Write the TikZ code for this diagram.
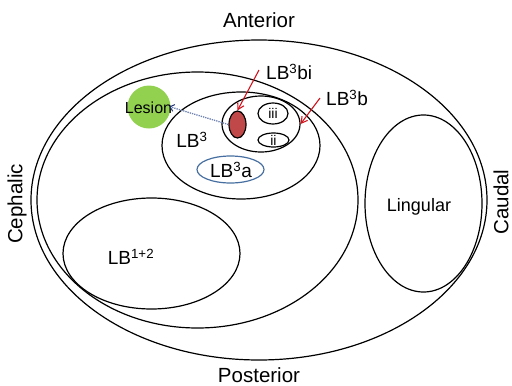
\documentclass[tikz,border=0pt]{standalone}
\usepackage{fontspec}
\setmainfont{Liberation Sans}
\usetikzlibrary{shapes.geometric,arrows.meta}
\definecolor{lesiongreen}{RGB}{146,208,80}
\definecolor{bired}{RGB}{192,72,72}
\definecolor{arrred}{RGB}{210,20,30}
\definecolor{lbablue}{RGB}{70,110,160}
\definecolor{dotblue}{RGB}{110,130,175}
\definecolor{tipblue}{RGB}{30,50,120}
\begin{document}
\begin{tikzpicture}[x=1pt,y=-1pt,
  region/.style={draw=black, line width=1.2pt, ellipse, inner sep=0pt},
  lbl/.style={font=\fontsize{19}{21}\selectfont, inner sep=0pt},
  biglbl/.style={font=\fontsize{20.5}{23}\selectfont, inner sep=0pt},
  small/.style={font=\fontsize{14}{16}\selectfont, inner sep=0pt},
  redarrow/.style={draw=arrred, line width=1.1pt, -{Straight Barb[length=6pt,width=7pt]}}]
\useasboundingbox (0,0) rectangle (512,386);
% regions
\node[region, minimum width=456pt, minimum height=320pt] (outer) at (259,200) {};
\node[region, minimum width=321pt, minimum height=256pt] (upper) at (197.5,200) {};
\node[region, minimum width=117pt, minimum height=177pt] (ling) at (423.5,203.5) {};
\node[region, minimum width=177pt, minimum height=111pt] (lb12) at (151.5,253.5) {};
\node[region, minimum width=158pt, minimum height=107pt] (lb3) at (241,145.5) {};
\node[region, minimum width=78pt, minimum height=56pt] (lb3b) at (261,124) {};
\node[region, minimum width=30pt, minimum height=21pt] (iii) at (273,113.5) {};
\node[region, minimum width=31pt, minimum height=14pt] (ii) at (273.5,140) {};
\node[region, fill=bired, minimum width=17pt, minimum height=27pt] (bi) at (237.5,124.5) {};
\node[region, draw=lbablue, minimum width=67pt, minimum height=27pt] (lb3a) at (230.5,169.5) {};
\node[circle, fill=lesiongreen, minimum size=43pt, inner sep=0pt] (lesion) at (149,107) {};
% texts
\node[font=\fontsize{16}{18}\selectfont, inner sep=0pt] (lesiont) at (148.5,107.5) {Lesion};
\node[small] (iiit) at (273,113.5) {iii};
\node[small] (iit) at (273.5,140) {ii};
\node[lbl] (lb3t) at (192,140) {LB\textsuperscript{3}};
\node[lbl] (lb3at) at (231,170) {LB\textsuperscript{3}a};
\node[lbl] (lb12t) at (131,257) {LB\textsuperscript{1+2}};
\node[font=\fontsize{18}{20}\selectfont, inner sep=0pt] (lingt) at (419,207) {Lingular};
\node[lbl, anchor=west] (bit) at (266,72) {LB\textsuperscript{3}bi};
\node[lbl, anchor=west] (lb3bt) at (326,98) {LB\textsuperscript{3}b};
\node[biglbl] (ant) at (259,20) {Anterior};
\node[biglbl] (post) at (259,375) {Posterior};
\node[biglbl, rotate=90] (ceph) at (17,204) {Cephalic};
\node[biglbl, rotate=90] (caud) at (501,202) {Caudal};
% connectors
\coordinate (bistart) at (259,70);
\coordinate (bstart) at (320,98);
\draw[redarrow] (bistart) -- (bi.north);
\draw[redarrow] (bstart) -- (lb3b.east);
\draw[dotblue, densely dotted, line width=1.3pt, shorten >=-1.5pt, -{Straight Barb[length=4pt,width=7pt,color=tipblue,line width=1pt]}] (bi.west) -- (lesion.east);
\end{tikzpicture}
\end{document}
